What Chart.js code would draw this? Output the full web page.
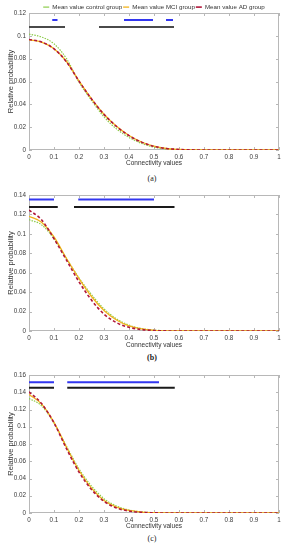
<!DOCTYPE html>
<html>
<head>
<meta charset="utf-8">
<script src="https://cdn.jsdelivr.net/npm/chart.js@4"></script>
<style>
  body { margin: 0; background: #fff; width: 287px; height: 550px; position: relative; overflow: hidden; }
  canvas { position: absolute; left: 0; }
  .cap { position: absolute; left: 0; width: 304px; text-align: center; font: 8px "Liberation Serif", serif; color: #222; line-height: 10px; }
</style>
</head>
<body>
<canvas id="chartA" width="287" height="168" style="top:0px"></canvas>
<div class="cap" style="top:174px">(a)</div>
<canvas id="chartB" width="287" height="166" style="top:184px"></canvas>
<div class="cap" style="top:353px;font-weight:bold">(b)</div>
<canvas id="chartC" width="287" height="167" style="top:364px"></canvas>
<div class="cap" style="top:534px">(c)</div>
<script>
'use strict'
// connectivity values (x)
let conn = [0, 0.05, 0.1, 0.15, 0.2, 0.25, 0.3, 0.35, 0.4, 0.45, 0.5, 0.55, 0.6, 0.65, 0.7, 0.75, 0.8, 0.85, 0.9, 0.95, 1];

let ctrlA = [0.1015, 0.099, 0.093, 0.080, 0.0595, 0.0435, 0.029, 0.0185, 0.011, 0.0058, 0.0025, 0.0009, 0.0003, 0.0001, 0, 0, 0, 0, 0, 0, 0];
let mciA = [0.0966, 0.0945, 0.0887, 0.0775, 0.0605, 0.0448, 0.0313, 0.0207, 0.0127, 0.007, 0.0033, 0.0013, 0.0005, 0.0001, 0, 0, 0, 0, 0, 0, 0];
let adA = [0.0968, 0.0946, 0.0886, 0.0772, 0.0603, 0.0447, 0.0312, 0.0206, 0.0126, 0.0069, 0.0032, 0.0013, 0.0005, 0.0001, 0, 0, 0, 0, 0, 0, 0];

let ctrlB = [0.1146, 0.1094, 0.095, 0.0746, 0.0547, 0.0375, 0.0228, 0.0125, 0.006, 0.0025, 0.0009, 0.0003, 0.0001, 0, 0, 0, 0, 0, 0, 0, 0];
let mciB = [0.118, 0.112, 0.0968, 0.0746, 0.054, 0.0355, 0.0212, 0.0113, 0.0052, 0.0021, 0.0007, 0.0002, 0.0001, 0, 0, 0, 0, 0, 0, 0, 0];
let adB = [0.1245, 0.1145, 0.095, 0.0729, 0.0506, 0.0318, 0.0174, 0.0086, 0.0038, 0.0015, 0.0005, 0.0001, 0, 0, 0, 0, 0, 0, 0, 0, 0];

let ctrlC = [0.1328, 0.1244, 0.1043, 0.0774, 0.0512, 0.0312, 0.0166, 0.0081, 0.0035, 0.0013, 0.0004, 0.0001, 0, 0, 0, 0, 0, 0, 0, 0, 0];
let mciC = [0.1375, 0.1265, 0.105, 0.0762, 0.0493, 0.0289, 0.0146, 0.0069, 0.003, 0.0011, 0.0003, 0.0001, 0, 0, 0, 0, 0, 0, 0, 0, 0];
let adC = [0.1405, 0.127, 0.1045, 0.0745, 0.0474, 0.0273, 0.0135, 0.0058, 0.0023, 0.0008, 0.0002, 0, 0, 0, 0, 0, 0, 0, 0, 0, 0];

// significance bars: [start, end] ranges and their heights
let blueA = [[0.093, 0.114], [0.38, 0.496], [0.548, 0.576]];
let blueAY = 0.1139;
let blackA = [[0, 0.144], [0.28, 0.58]];
let blackAY = 0.1077;

let blueB = [[0, 0.1], [0.197, 0.5]];
let blueBY = 0.1353;
let blackB = [[0, 0.115], [0.18, 0.582]];
let blackBY = 0.1277;

let blueC = [[0, 0.1], [0.153, 0.52]];
let blueCY = 0.1515;
let blackC = [[0, 0.1], [0.153, 0.583]];
let blackCY = 0.1453;

let yMaxA = 0.12;
let yMaxB = 0.14;
let yMaxC = 0.16;

let seriesNames = ['Mean value control group', 'Mean value MCI group', 'Mean value AD group'];

function pts(vals) {
    return conn.map(function (x, i) { return { x: x, y: vals[i] }; });
}

function segs(list, y) {
    let out = [];
    for (let i = 0; i < list.length; i++) {
        out.push({ x: list[i][0], y: y });
        out.push({ x: list[i][1], y: y });
        out.push({ x: list[i][1], y: null });
    }
    return out;
}

function tickText(v) {
    return String(Number(v.toFixed(2)));
}

// matlab-like box with inward ticks
let boxPlugin = {
    id: 'box',
    beforeDatasetsDraw(chart) {
        let ctx = chart.ctx;
        let a = chart.chartArea;
        ctx.save();
        ctx.strokeStyle = '#b8b8b8';
        ctx.lineWidth = 1;
        ctx.strokeRect(a.left + 0.5, a.top + 0.5, a.right - a.left - 1, a.bottom - a.top - 1);
        let xs = chart.scales.x;
        let ys = chart.scales.y;
        ctx.beginPath();
        xs.ticks.forEach(function (t) {
            let px = Math.round(xs.getPixelForValue(t.value)) + 0.5;
            ctx.moveTo(px, a.bottom); ctx.lineTo(px, a.bottom - 3);
            ctx.moveTo(px, a.top); ctx.lineTo(px, a.top + 3);
        });
        ys.ticks.forEach(function (t) {
            let py = Math.round(ys.getPixelForValue(t.value)) + 0.5;
            ctx.moveTo(a.left, py); ctx.lineTo(a.left + 3, py);
            ctx.moveTo(a.right, py); ctx.lineTo(a.right - 3, py);
        });
        ctx.stroke();
        ctx.restore();
    }
};

function makeChart(id, ctrl, mci, ad, yMax, blue, blueY, black, blackY, showLegend, padTop, xH, barDark) {
    let ctx = document.getElementById(id).getContext('2d');
    return new Chart(ctx, {
        type: 'line',
        data: {
            datasets: [
                { label: seriesNames[0], data: pts(ctrl), borderColor: '#8ccc4a', borderWidth: 1.2, borderDash: [1.5, 1.2], order: 3 },
                { label: seriesNames[1], data: pts(mci), borderColor: '#f2b31c', borderWidth: 1.3, order: 2 },
                { label: seriesNames[2], data: pts(ad), borderColor: '#b0173a', borderWidth: 1.6, borderDash: [3, 2.2], order: 1 },
                { label: 'blue', data: segs(blue, blueY), borderColor: '#3236f0', borderWidth: 2, spanGaps: false, order: 0 },
                { label: 'black', data: segs(black, blackY), borderColor: barDark, borderWidth: 2, spanGaps: false, order: 0 }
            ]
        },
        options: {
            responsive: false,
            animation: false,
            events: [],
            layout: { padding: { left: 2, right: 8, top: padTop, bottom: 0 } },
            elements: {
                point: { radius: 0 },
                line: { cubicInterpolationMode: 'monotone', fill: false, borderCapStyle: 'butt' }
            },
            plugins: {
                tooltip: { enabled: false },
                legend: {
                    display: showLegend,
                    position: 'top',
                    fullSize: false,
                    maxHeight: 10,
                    labels: {
                        filter: function (item) { return item.datasetIndex < 3; },
                        sort: function (a, b) { return a.datasetIndex - b.datasetIndex; },
                        usePointStyle: true,
                        pointStyle: 'line',
                        pointStyleWidth: 6,
                        padding: 1,
                        color: '#333',
                        font: { family: 'Liberation Sans', size: 6.2 }
                    }
                }
            },
            scales: {
                x: {
                    type: 'linear',
                    min: 0,
                    max: 1,
                    grid: { display: false, drawTicks: false },
                    border: { display: false },
                    ticks: { stepSize: 0.1, padding: 3, color: '#3a3a3a', maxRotation: 0, callback: tickText, font: { family: 'Liberation Sans', size: 6.3 } },
                    title: { display: true, text: 'Connectivity values', color: '#333', padding: { top: 0, bottom: 1 }, font: { family: 'Liberation Sans', size: 6.5 } },
                    afterFit: function (s) { s.height = xH; }
                },
                y: {
                    min: 0,
                    max: yMax,
                    grid: { display: false, drawTicks: false },
                    border: { display: false },
                    ticks: { stepSize: 0.02, padding: 3, color: '#3a3a3a', callback: tickText, font: { family: 'Liberation Sans', size: 6.3 } },
                    title: { display: true, text: 'Relative probability', color: '#333', padding: { top: 4, bottom: 0 }, font: { family: 'Liberation Sans', size: 7.5 } },
                    afterFit: function (s) { s.width = 27; }
                }
            }
        },
        plugins: [boxPlugin]
    });
}

makeChart('chartA', ctrlA, mciA, adA, yMaxA, blueA, blueAY, blackA, blackAY, true, 3, 18, '#4a4a4a');
makeChart('chartB', ctrlB, mciB, adB, yMaxB, blueB, blueBY, blackB, blackBY, false, 11, 19, '#1a1a1a');
makeChart('chartC', ctrlC, mciC, adC, yMaxC, blueC, blueCY, blackC, blackCY, false, 11, 18, '#1a1a1a');
</script>
</body>
</html>
